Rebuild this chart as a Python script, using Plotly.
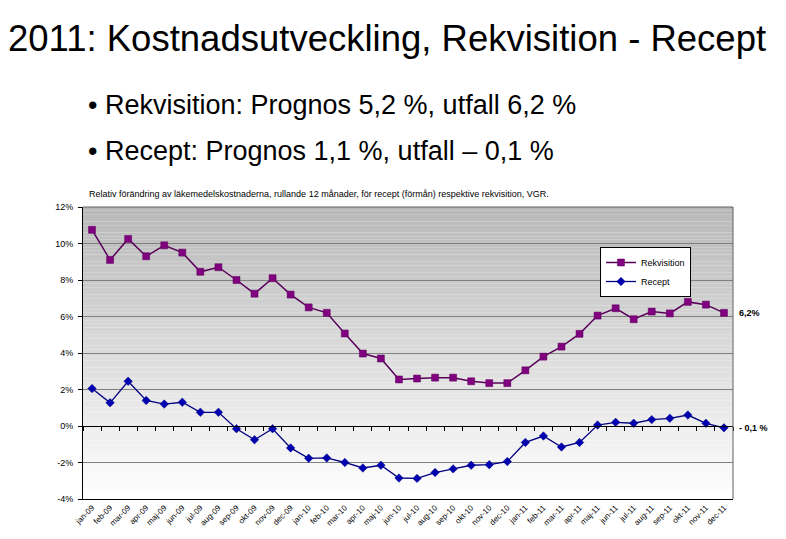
import plotly.graph_objects as go

months = ["jan-09","feb-09","mar-09","apr-09","maj-09","jun-09","jul-09","aug-09","sep-09","okt-09","nov-09","dec-09",
          "jan-10","feb-10","mar-10","apr-10","maj-10","jun-10","jul-10","aug-10","sep-10","okt-10","nov-10","dec-10",
          "jan-11","feb-11","mar-11","apr-11","maj-11","jun-11","jul-11","aug-11","sep-11","okt-11","nov-11","dec-11"]

rekvisition = [10.75, 9.1, 10.25, 9.3, 9.9, 9.5, 8.45, 8.7, 8.0, 7.25, 8.1, 7.2,
               6.5, 6.2, 5.07, 3.97, 3.7, 2.55, 2.6, 2.65, 2.65, 2.45, 2.35, 2.35,
               3.05, 3.8, 4.35, 5.05, 6.05, 6.45, 5.85, 6.27, 6.17, 6.8, 6.65, 6.2]

recept = [2.05, 1.27, 2.45, 1.4, 1.2, 1.3, 0.75, 0.75, -0.15, -0.75, -0.15, -1.2,
          -1.77, -1.75, -2.0, -2.3, -2.15, -2.85, -2.87, -2.55, -2.35, -2.15, -2.12, -1.95,
          -0.9, -0.55, -1.15, -0.9, 0.05, 0.2, 0.15, 0.35, 0.42, 0.6, 0.15, -0.1]

y_ticks = [12, 10, 8, 6, 4, 2, 0, -2, -4]
y_ticktext = ["12%", "10%", "8%", "6%", "4%", "2%", "0%", "-2%", "-4%"]

title_text = "2011: Kostnadsutveckling, Rekvisition - Recept"
bullet1 = "• Rekvisition: Prognos 5,2 %, utfall 6,2 %"
bullet2 = "• Recept: Prognos 1,1 %, utfall – 0,1 %"
subtitle = "Relativ förändring av läkemedelskostnaderna, rullande 12 månader, för recept (förmån) respektive rekvisition, VGR."
end_label_rek = "6,2%"
end_label_rec = "- 0,1 %"

W, H = 786, 539
OFF = 8  # page body margin compensation
L, R, T, B = 83 - OFF, 733 - OFF, 207 - OFF, 499 - OFF

def px(x):
    return (x - OFF - L) / (R - L)

def py(y):
    return (B - (y - OFF)) / (B - T)

xi = list(range(len(months)))
FONT = "Liberation Sans, Arial"

fig = go.Figure()
fig.add_trace(go.Scatter(
    x=xi, y=rekvisition, name="Rekvisition", mode="lines+markers",
    line=dict(color="#5a005a", width=1.5),
    marker=dict(symbol="square", size=7, color="#800080", line=dict(color="#5a005a", width=0.5)),
))
fig.add_trace(go.Scatter(
    x=xi, y=recept, name="Recept", mode="lines+markers",
    line=dict(color="#000080", width=1.3),
    marker=dict(symbol="diamond", size=6.5, color="#0000b0", line=dict(color="#000080", width=0.5)),
))
fig.add_trace(go.Scatter(x=[0], y=[0], xaxis="x2", mode="markers", marker=dict(opacity=0),
                         showlegend=False, hoverinfo="skip"))

shapes = []
N = 80
top_c, bot_c = 184, 255
for i in range(N):
    f = (i + 0.5) / N
    c = int(round(bot_c + (top_c - bot_c) * f))
    shapes.append(dict(type="rect", xref="paper", yref="paper", x0=0, x1=1,
                       y0=i / N, y1=(i + 1) / N, fillcolor=f"rgb({c},{c},{c})",
                       line=dict(width=0), layer="below"))
shapes.append(dict(type="line", xref="paper", yref="paper", x0=0, x1=1, y0=1, y1=1,
                   line=dict(color="#606060", width=1)))
shapes.append(dict(type="line", xref="paper", yref="paper", x0=1, x1=1, y0=0, y1=1,
                   line=dict(color="#606060", width=1)))

annotations = [
    dict(text=title_text, x=px(6), y=py(38), xref="paper", yref="paper", xanchor="left", yanchor="middle",
         showarrow=False, font=dict(family=FONT, size=36.5, color="black")),
    dict(text=bullet1, x=px(86), y=py(105), xref="paper", yref="paper", xanchor="left", yanchor="middle",
         showarrow=False, font=dict(family=FONT, size=27, color="black")),
    dict(text=bullet2, x=px(86), y=py(151), xref="paper", yref="paper", xanchor="left", yanchor="middle",
         showarrow=False, font=dict(family=FONT, size=27, color="black")),
    dict(text=subtitle, x=px(87), y=py(194), xref="paper", yref="paper", xanchor="left", yanchor="middle",
         showarrow=False, font=dict(family=FONT, size=9, color="black")),
    dict(text="<b>" + end_label_rek + "</b>", x=px(737), y=rekvisition[-1], xref="paper", yref="y",
         xanchor="left", yanchor="middle", showarrow=False,
         font=dict(family=FONT, size=9, color="black")),
    dict(text="<b>" + end_label_rec + "</b>", x=px(737), y=recept[-1], xref="paper", yref="y",
         xanchor="left", yanchor="middle", showarrow=False,
         font=dict(family=FONT, size=9, color="black")),
]

fig.update_layout(
    width=W, height=H,
    margin=dict(l=L, r=W - R, t=T, b=H - B, pad=0),
    paper_bgcolor="white", plot_bgcolor="white",
    font=dict(family=FONT, size=8, color="black"),
    showlegend=True,
    legend=dict(x=px(600), y=py(247), xanchor="left", yanchor="top",
                bgcolor="white", bordercolor="black", borderwidth=1,
                font=dict(size=9, family=FONT),
                tracegroupgap=0, itemwidth=30),
    xaxis=dict(range=[-0.5, len(months) - 0.5], tickvals=xi, ticktext=months, tickangle=-45,
               showgrid=False, zeroline=False, showline=True, linecolor="black", linewidth=1,
               ticks="", tickfont=dict(size=8), fixedrange=True),
    xaxis2=dict(overlaying="x", anchor="free", position=0.25,
                range=[-0.5, len(months) - 0.5], tickmode="linear", tick0=-0.5, dtick=1,
                ticks="outside", ticklen=4, tickcolor="black", showticklabels=False,
                showgrid=False, zeroline=False, showline=True, linecolor="black", linewidth=1),
    yaxis=dict(range=[-4, 12], tickvals=y_ticks, ticktext=y_ticktext,
               showgrid=True, gridcolor="#808080", gridwidth=1, zeroline=False,
               showline=True, linecolor="black", linewidth=1, ticks="outside", ticklen=4,
               tickcolor="black", tickfont=dict(size=9), ticklabelstandoff=3),
    shapes=shapes,
    annotations=annotations,
)

fig.write_html("out.html")
